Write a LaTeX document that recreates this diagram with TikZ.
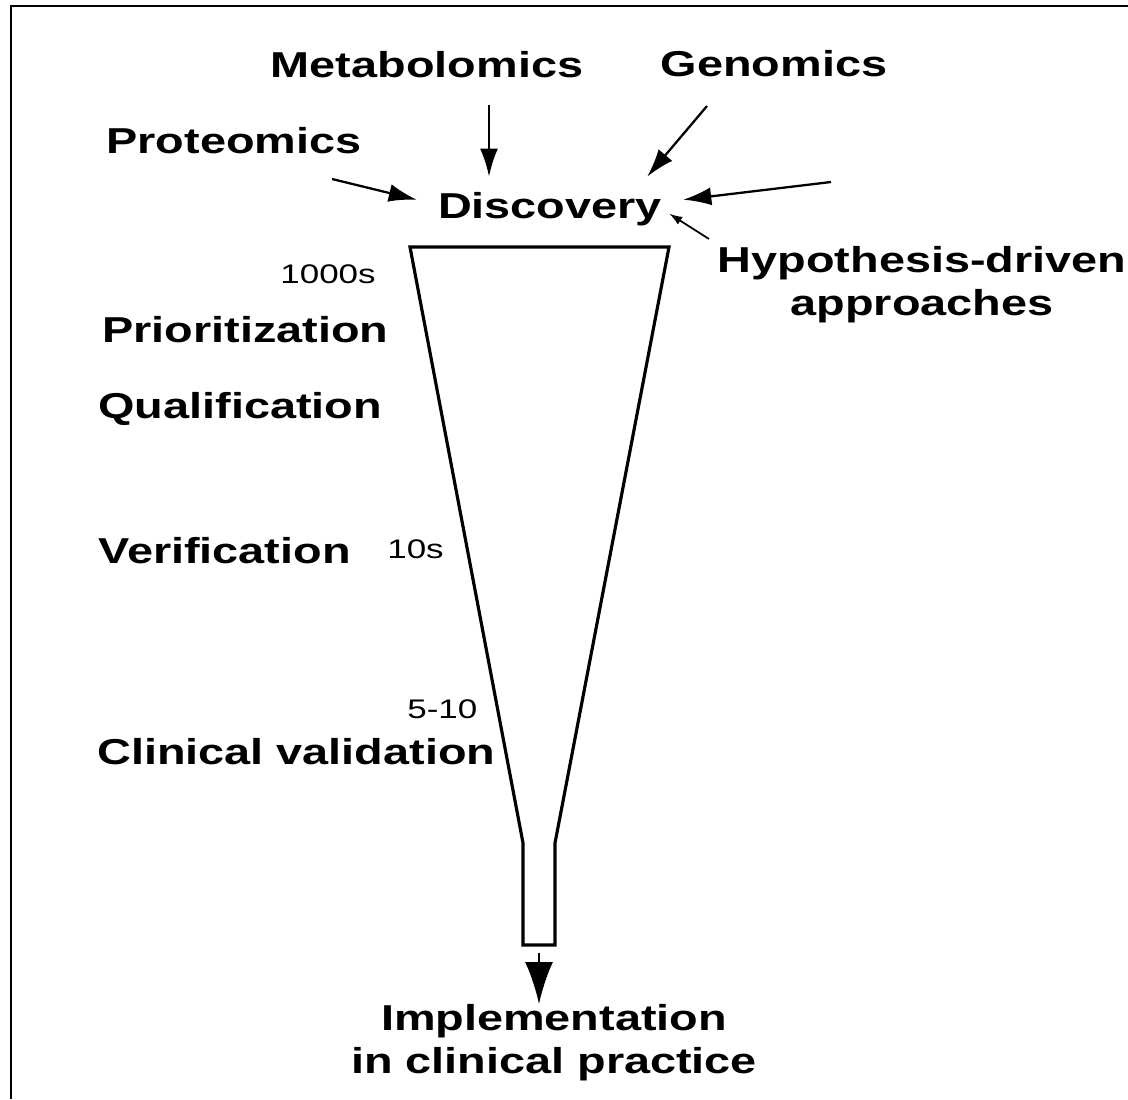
\documentclass[tikz,border=0pt]{standalone}
\usepackage{fontspec}
\setmainfont{Liberation Sans}[FakeStretch=1.3]
\usetikzlibrary{arrows.meta,calc}

\begin{document}
\begin{tikzpicture}[x=0.02cm,y=-0.02cm,
        stage/.style={font=\fontsize{20.5}{24.6}\selectfont\bfseries, inner sep=0pt},
        count/.style={font=\fontsize{15.3}{18}\selectfont, inner sep=0pt},
        feed/.style={line width=1.3pt, -{Latex[length=0.56cm,width=0.36cm]}}]
        \useasboundingbox (0,0) rectangle (1128,1099);

        % Frame
        \draw[line width=1.2pt] (11,1099) -- (11,6) -- (1128,6);

        % Funnel
        \draw[line width=1.8pt] (410,247) -- (669,247) -- (555,843) -- (555,945)
            -- (523,945) -- (523,843) -- cycle;

        % Sources
        \node[stage, anchor=base] (met) at (427,77) {Metabolomics};
        \node[stage, anchor=base] (gen) at (774,76) {Genomics};
        \node[stage, anchor=base] (prot) at (234,153) {Proteomics};
        \node[stage, anchor=base, inner xsep=0.42cm, inner ysep=0.3cm] (disc) at (550,218) {Discovery};
        \node[stage, anchor=north, align=center] (hyp) at (922,246) {Hypothesis-driven\\approaches};

        % Stages
        \node[stage, anchor=base west] (prio) at (102,342) {Prioritization};
        \node[stage, anchor=base west] (qual) at (98,418) {Qualification};
        \node[stage, anchor=base west] (veri) at (98,563) {Verification};
        \node[stage, anchor=base west] (clin) at (97,764) {Clinical validation};
        \node[stage, anchor=north, align=center] (impl) at (554,1004) {Implementation\\in clinical practice};

        % Counts
        \node[count, anchor=base east] (n1000) at (376,283) {1000s};
        \node[count, anchor=base west] (n10) at (387,558) {10s};
        \node[count, anchor=base west] (n5) at (407,718) {5-10};

        % Arrows
        \coordinate (metstart) at (489,105);
        \coordinate (protstart) at (332,179);
        \coordinate (genstart) at (707,106);
        \coordinate (sidestart) at (831,182);
        \coordinate (hypstart) at (709,239);
        \coordinate (neck) at (539,953);
        \draw[feed] (metstart) -- (metstart |- disc.north);
        \draw[feed] (protstart) -- ($(disc.west)+(0,-9)$);
        \draw[feed] (genstart) -- ($(disc.north east)+(-36,0)$);
        \draw[feed] (sidestart) -- ($(disc.east)+(0,-9)$);
        \draw[line width=1pt, -{Latex[length=0.26cm,width=0.18cm]}] (hypstart) -- ($(disc.east)+(-14,5)$);
        \draw[line width=1.3pt, -{Latex[length=0.84cm,width=0.56cm]}] (neck) -- (neck |- impl.north);

    \end{tikzpicture}
\end{document}
